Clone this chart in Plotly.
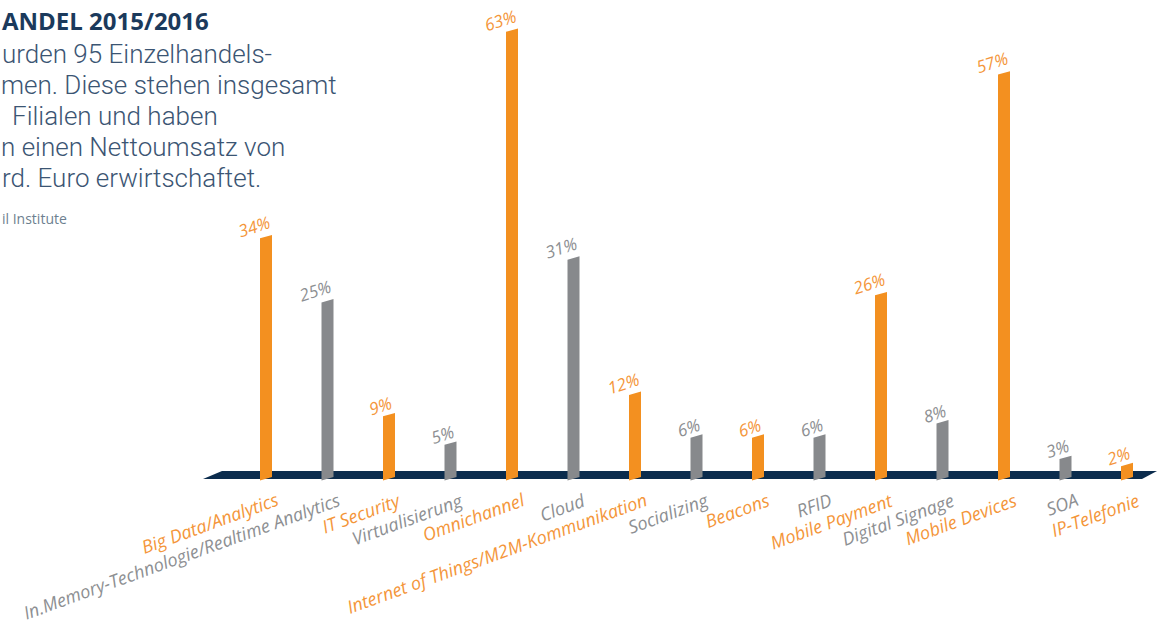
import plotly.graph_objects as go

categories = ["Big Data/Analytics", "In.Memory-Technologie/Realtime Analytics", "IT Security",
              "Virtualisierung", "Omnichannel", "Cloud", "Internet of Things/M2M-Kommunikation",
              "Socializing", "Beacons", "RFID", "Mobile Payment", "Digital Signage",
              "Mobile Devices", "SOA", "IP-Telefonie"]
values = [34, 25, 9, 5, 63, 31, 12, 6, 6, 6, 26, 8, 57, 3, 2]
highlight = [True, False, True, False, True, False, True, False, True, False, True, False, True, False, True]

title_lines = ["ANDEL 2015/2016"]
body_lines = ["urden 95 Einzelhandels-", "men. Diese stehen insgesamt", "Filialen und haben",
              "n einen Nettoumsatz von", "rd. Euro erwirtschaftet."]
source_text = "il Institute"

ORANGE = "#f39020"
GREY = "#87898c"
ORANGE_T = "#f4963a"
GREY_T = "#8d8f92"
NAVY = "#0b2c4d"

W, H = 1161, 625
spacing_px = 61.5
x0 = -266 / spacing_px
x1 = x0 + W / spacing_px
px_per_unit = 7.12
zero_px = 477
y0 = -(H - zero_px) / px_per_unit
y1 = zero_px / px_per_unit

bw = 6 / spacing_px       # half bar width in x units
slant = 3.4 / px_per_unit  # slanted top/bottom

fig = go.Figure()

for hl, col in [(True, ORANGE), (False, GREY)]:
    xs, ys = [], []
    for i, (v, h) in enumerate(zip(values, highlight)):
        if h != hl:
            continue
        xs += [i - bw, i - bw, i + bw, i + bw, i - bw, None]
        ys += [-slant, v - slant, v, 0, -slant, None]
    fig.add_trace(go.Scatter(x=xs, y=ys, fill="toself", fillcolor=col, mode="lines",
                             line=dict(width=0, color=col), hoverinfo="skip", showlegend=False))

def px2x(p):
    return x0 + p / spacing_px

def px2y(p):
    return (zero_px - p) / px_per_unit

# baseline band
band = (f"M {px2x(203)},{px2y(479)} L {px2x(222)},{px2y(471)} "
        f"L {px2x(1157)},{px2y(471)} L {px2x(1142)},{px2y(479)} Z")
fig.add_shape(type="path", path=band, xref="x", yref="y", fillcolor=NAVY,
              line=dict(width=0), layer="below")

annotations = []
for i, (c, v, h) in enumerate(zip(categories, values, highlight)):
    col = ORANGE_T if h else GREY_T
    annotations.append(dict(x=i, y=v, xref="x", yref="y", text=f"<i>{v}%</i>", showarrow=False,
                            xanchor="right", yanchor="bottom", xshift=9, yshift=-10,
                            textangle=-18,
                            font=dict(family="Open Sans", size=17, color=col)))
    annotations.append(dict(x=i, y=0, xref="x", yref="y", text=f"<i>{c}</i>", showarrow=False,
                            xanchor="right", yanchor="top", xshift=18, yshift=-8,
                            textangle=-20,
                            font=dict(family="Open Sans", size=18, color=col)))

annotations.append(dict(x=0, y=1 - 21 / H, xref="paper", yref="paper", text=f"<b>{title_lines[0]}</b>",
                        showarrow=False, xanchor="left", yanchor="middle",
                        font=dict(family="Open Sans", size=24, color="#1b3a5c")))
body_y = [54, 85, 116, 147, 178]
body_x = [1, 0, 11, 0, 1]
for t, yy, xx in zip(body_lines, body_y, body_x):
    annotations.append(dict(x=xx / W, y=1 - yy / H, xref="paper", yref="paper", text=t,
                            showarrow=False, xanchor="left", yanchor="middle", borderpad=0,
                            font=dict(family="Roboto", size=26, color="#3b5573", weight=300)))
annotations.append(dict(x=0, y=1 - 218 / H, xref="paper", yref="paper", text=source_text,
                        showarrow=False, xanchor="left", yanchor="middle",
                        font=dict(family="Open Sans", size=14, color="#6d7f90")))

fig.update_layout(
    width=W, height=H,
    margin=dict(l=0, r=0, t=0, b=0),
    paper_bgcolor="white", plot_bgcolor="white",
    xaxis=dict(range=[x0, x1], visible=False, fixedrange=True),
    yaxis=dict(range=[y0, y1], visible=False, fixedrange=True),
    annotations=annotations,
    showlegend=False,
)

fig.write_html("out.html", config={"displayModeBar": False},
               post_script="document.body.style.margin='0';")
